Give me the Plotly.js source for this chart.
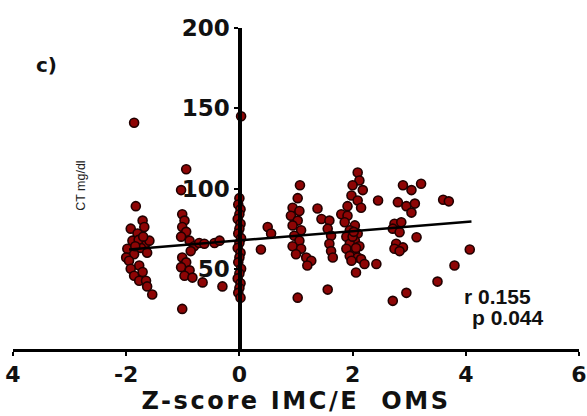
<!DOCTYPE html>
<html>
<head>
<meta charset="utf-8">
<script src="https://cdn.plot.ly/plotly-3.0.1.min.js"></script>
<style>
  html, body { margin: 0; padding: 0; background: #fff; }
  #chart { width: 587px; height: 416px; }
  /* wide-set axis title */
  #chart .xtitle { letter-spacing: 2.6px; }
</style>
</head>
<body>
<div id="chart"></div>
<script>
// Z-score (BMI for age, WHO) vs total cholesterol (mg/dl)
const zScore = [
  -1.86, -1.83, -1.71, -1.92, -1.68, -1.80, -1.89, -1.65, -1.59, -1.74, -1.98, -1.63, -1.86, -2.00, -1.95,
  -1.77, -1.92, -1.71, -1.86, -1.77, -1.65, -1.63, -1.54, -1.78, -1.70, -1.84,
  -0.94, -1.03, -1.01, -0.97, -1.01, -0.94, -1.03, -0.88, -0.80, -0.86, -1.01, -0.94, -1.03, -0.88, -0.97,
  -0.83, -1.01, -0.71, -0.62, -0.44, -0.35, -0.65, -0.30,
  0.03, 0.00, -0.02, 0.02, 0.00, -0.03, 0.02, 0.00, -0.02, 0.03, 0.00, -0.03, 0.02, 0.00, -0.02, 0.03,
  0.00, -0.03, 0.02, 0.00, -0.02, 0.02,
  0.50, 0.56, 0.38,
  1.07, 1.03, 0.94, 1.06, 0.91, 1.03, 0.94, 1.09, 0.97, 1.06, 0.94, 1.09, 1.00, 1.18, 1.27, 1.20, 1.03,
  1.38, 1.45, 1.59, 1.56, 1.62, 1.59, 1.62, 1.65, 1.56,
  2.09, 2.12, 2.00, 2.18, 1.98, 2.09, 1.91, 2.15, 1.80, 1.91, 1.86, 2.04, 1.95, 2.09, 1.89, 2.04, 1.95,
  2.12, 1.89, 2.04, 1.95, 2.09, 1.98, 2.15, 2.21, 2.06, 2.42, 2.45, 2.00, 2.06, 2.02,
  2.89, 3.04, 3.21, 2.80, 2.95, 3.10, 3.04, 2.74, 2.86, 2.71, 2.83, 3.13, 2.77, 2.89, 2.74, 2.83, 2.71, 2.95,
  3.60, 3.70, 3.50, 3.80, 4.07
];
const cholesterol = [
  141, 89, 80, 75, 76, 72, 67.5, 66, 67.5, 63, 62.5, 60, 59, 57, 55,
  52, 50, 48, 45.6, 42.5, 42.5, 39, 34, 68, 70, 64,
  112, 99, 84, 80, 76, 73, 70, 67.5, 64, 61, 57, 54, 51, 49, 45.6,
  44.5, 25, 66, 65.6, 66, 67.5, 41.5, 39,
  145, 94, 90, 87, 84, 81, 78, 75, 72, 69, 66, 63, 60, 57, 54, 50,
  47, 44, 41, 38, 35, 32,
  76, 72, 62,
  102, 94, 88, 86, 83, 80, 77, 74, 70.6, 67.5, 64, 62.5, 59, 57, 55, 52, 32,
  87.5, 81, 80, 75, 70.6, 65.6, 61, 57, 37,
  110, 105, 102, 99, 95.6, 92.5, 89, 88, 84, 83, 79, 77, 74, 72, 70, 67.5, 65.6,
  64, 62.5, 60, 58, 57, 55, 56, 53, 47.7, 53, 92.5, 70, 63, 73,
  102, 99, 103, 91.5, 89, 90.6, 85, 78, 79, 75, 72.7, 69.6, 65.6, 63.3, 62.5, 61, 30, 35,
  93, 92, 42, 52, 62
];

// Linear fit drawn across the observed range
const fitX = [-1.95, 4.1];
const fitY = [62, 79.5];

// Axis ticks
const xTickVals = [-4, -2, 0, 2, 4, 6];
const xTickText = ['4', '-2', '0', '2', '4', '6'];
const yTickVals = [50, 100, 150, 200];

const boldTick = { family: 'DejaVu Sans', weight: 'bold', color: '#111' };

const traces = [
  {
    type: 'scatter', mode: 'markers',
    x: zScore, y: cholesterol,
    marker: { size: 9, color: '#8e0505', line: { color: '#200000', width: 1.6 } },
    hoverinfo: 'x+y', showlegend: false
  },
  {
    type: 'scatter', mode: 'lines',
    x: fitX, y: fitY,
    line: { color: '#000', width: 2.5 },
    hoverinfo: 'skip', showlegend: false
  }
];

const layout = {
  width: 587, height: 416,
  margin: { l: 13, r: 8, t: 28, b: 67 },
  paper_bgcolor: '#fff', plot_bgcolor: '#fff',
  showlegend: false,
  xaxis: {
    range: [-4, 6], tickvals: xTickVals, ticktext: xTickText,
    showgrid: false, zeroline: false,
    showline: true, linecolor: '#000', linewidth: 3,
    ticks: 'outside', ticklen: 4, tickwidth: 2, tickcolor: '#000',
    tickfont: Object.assign({ size: 22 }, boldTick),
    title: { text: 'Z-score IMC/E  OMS', font: { family: 'DejaVu Sans', weight: 'bold', size: 24, color: '#111' }, standoff: 4 }
  },
  yaxis: {
    range: [0, 200], tickvals: yTickVals,
    anchor: 'free', position: 0.4,
    showgrid: false, zeroline: false,
    showline: true, linecolor: '#000', linewidth: 3.5,
    ticks: 'outside', ticklen: 4, tickwidth: 2, tickcolor: '#000',
    tickfont: Object.assign({ size: 23 }, boldTick)
  },
  annotations: [
    { xref: 'paper', yref: 'paper', x: 0.12, y: 0.508, xanchor: 'center', yanchor: 'middle',
      text: 'CT mg/dl', textangle: -90,
      showarrow: false, font: { family: 'Liberation Sans', size: 12.5, color: '#222' } },
    { xref: 'paper', yref: 'paper', x: 0.06, y: 0.885, xanchor: 'center', yanchor: 'middle',
      text: 'c)',
      showarrow: false, font: { family: 'DejaVu Sans', weight: 'bold', size: 20, color: '#111' } },
    { xref: 'x', yref: 'y', x: 3.93, y: 33, xanchor: 'left', yanchor: 'middle', text: 'r 0.155',
      showarrow: false, font: { family: 'Liberation Sans', weight: 'bold', size: 21, color: '#111' } },
    { xref: 'x', yref: 'y', x: 4.07, y: 19.5, xanchor: 'left', yanchor: 'middle', text: 'p 0.044',
      showarrow: false, font: { family: 'Liberation Sans', weight: 'bold', size: 21, color: '#111' } }
  ]
};

Plotly.newPlot('chart', traces, layout, { displayModeBar: false, staticPlot: true });
</script>
</body>
</html>
